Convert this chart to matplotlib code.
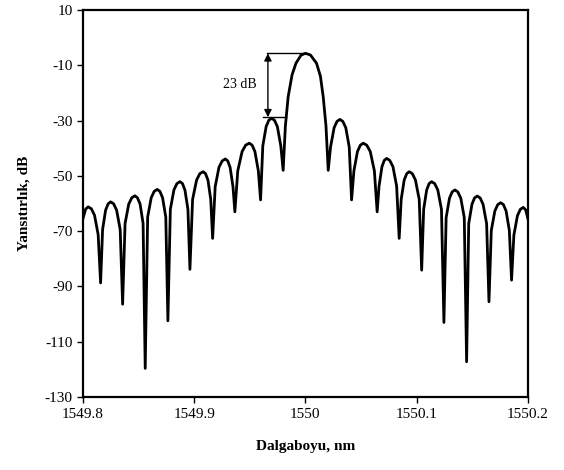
import matplotlib.pyplot as plt

#%% Donnees (spectre de reflexion)

wl_nm = [1549.8000, 1549.8025, 1549.8048, 1549.8076, 1549.8104, 1549.8137, 1549.8159,
         1549.8177, 1549.8204, 1549.8227, 1549.8249, 1549.8276, 1549.8303, 1549.8335, 1549.8357,
         1549.8379, 1549.8412, 1549.8440, 1549.8467, 1549.8490, 1549.8514, 1549.8541, 1549.8560,
         1549.8582, 1549.8614, 1549.8641, 1549.8668, 1549.8692, 1549.8716, 1549.8745, 1549.8764,
         1549.8786, 1549.8818, 1549.8845, 1549.8872, 1549.8895, 1549.8917, 1549.8944, 1549.8962,
         1549.8986, 1549.9022, 1549.9051, 1549.9081, 1549.9102, 1549.9124, 1549.9149, 1549.9166,
         1549.9189, 1549.9223, 1549.9252, 1549.9280, 1549.9302, 1549.9323, 1549.9349, 1549.9366,
         1549.9392, 1549.9431, 1549.9463, 1549.9495, 1549.9521, 1549.9546, 1549.9577, 1549.9597,
         1549.9617, 1549.9647, 1549.9671, 1549.9696, 1549.9722, 1549.9748, 1549.9779, 1549.9800,
         1549.9820, 1549.9845, 1549.9880, 1549.9915, 1549.9960, 1550.0000, 1550.0045, 1550.0100,
         1550.0135, 1550.0160, 1550.0185, 1550.0205,
         1550.0226, 1550.0258, 1550.0284, 1550.0310, 1550.0336, 1550.0363, 1550.0394, 1550.0415,
         1550.0436, 1550.0468, 1550.0494, 1550.0520, 1550.0551, 1550.0583, 1550.0620, 1550.0645,
         1550.0662, 1550.0688, 1550.0709, 1550.0730, 1550.0758, 1550.0787, 1550.0820, 1550.0843,
         1550.0861, 1550.0888, 1550.0911, 1550.0933, 1550.0961, 1550.0989, 1550.1023, 1550.1045,
         1550.1063, 1550.1090, 1550.1112, 1550.1134, 1550.1162, 1550.1190, 1550.1223, 1550.1245,
         1550.1265, 1550.1295, 1550.1319, 1550.1344, 1550.1370, 1550.1397, 1550.1428, 1550.1449,
         1550.1468, 1550.1497, 1550.1520, 1550.1544, 1550.1571, 1550.1597, 1550.1629, 1550.1650,
         1550.1671, 1550.1703, 1550.1729, 1550.1755, 1550.1780, 1550.1804, 1550.1833, 1550.1853,
         1550.1874, 1550.1906, 1550.1932, 1550.1958, 1550.1980, 1550.2000]

refl_db = [-65.5, -62.0, -61.2, -61.9, -64.2, -71.2, -88.7,
           -69.4, -62.4, -60.1, -59.4, -60.1, -62.4, -69.4, -96.4,
           -67.2, -60.2, -57.9, -57.2, -57.9, -60.2, -67.2, -119.6,
           -64.9, -57.9, -55.6, -54.9, -55.6, -57.9, -64.9, -102.4,
           -62.1, -55.1, -52.8, -52.1, -52.8, -55.1, -62.1, -83.8,
           -58.5, -51.5, -49.2, -48.5, -49.2, -51.5, -58.5, -72.6,
           -53.9, -46.9, -44.6, -43.9, -44.6, -46.9, -53.9, -63.0,
           -48.2, -41.2, -38.9, -38.2, -38.9, -41.2, -48.2, -58.7,
           -39.2, -32.2, -29.9, -29.2, -29.9, -32.2, -39.2, -48.0,
           -32.0, -21.4, -13.5, -9.3, -6.4, -5.7, -6.3, -9.3,
           -14.0, -21.4, -32.0, -48.0,
           -39.6, -32.6, -30.3, -29.6, -30.3, -32.6, -39.6, -58.7,
           -48.2, -41.2, -38.9, -38.2, -38.9, -41.2, -48.2, -63.0,
           -53.7, -46.7, -44.4, -43.7, -44.4, -46.7, -53.7, -72.6,
           -58.5, -51.5, -49.2, -48.5, -49.2, -51.5, -58.5, -84.1,
           -62.1, -55.1, -52.8, -52.1, -52.8, -55.1, -62.1, -103.0,
           -65.1, -58.1, -55.8, -55.1, -55.8, -58.1, -65.1, -117.2,
           -67.3, -60.3, -58.0, -57.3, -58.0, -60.3, -67.3, -95.5,
           -69.7, -62.7, -60.4, -59.7, -60.4, -62.7, -69.7, -87.7,
           -71.4, -64.4, -62.1, -61.4, -62.3, -65.5]

x_ticks = [1549.8, 1549.9, 1550.0, 1550.1, 1550.2]
x_labels = ["1549.8", "1549.9", "1550", "1550.1", "1550.2"]
y_ticks = [-130, -110, -90, -70, -50, -30, -10, 10]

# cote "23 dB" : pic principal / premier lobe secondaire
peak_db = -5.7
lobe_db = -28.8
arrow_x = 1549.9663

#%% Figure

plt.rcParams['font.family'] = ['Liberation Serif', 'DejaVu Serif']
plt.rcParams['axes.unicode_minus'] = False   # tirets simples comme l'original

fig = plt.figure(figsize=(5.64, 4.70), dpi=100)
ax = fig.add_axes([0.147, 0.155, 0.789, 0.824])

ax.plot(wl_nm, refl_db, color='k', lw=2.0, solid_joinstyle='round')

# lignes de repere + double fleche
ax.plot([1549.9653, 1550.0], [peak_db, peak_db], color='k', lw=1.0)
ax.plot([1549.9620, 1549.9825], [lobe_db, lobe_db], color='k', lw=1.0)
ax.annotate('', xy=(arrow_x, peak_db), xytext=(arrow_x, lobe_db),
            arrowprops=dict(arrowstyle='<|-|>', color='k', lw=1.0,
                            mutation_scale=11, shrinkA=0, shrinkB=0))
ax.text(1549.9411, -17.1, "23 dB", ha='center', va='center', fontsize=10)

ax.set_xlim(1549.8, 1550.2)
ax.set_ylim(-130, 10)
ax.set_xticks(x_ticks)
ax.set_xticklabels(x_labels)
ax.set_yticks(y_ticks)
ax.tick_params(direction='out', length=4, width=1, labelsize=11)
for sp in ax.spines.values():
    sp.set_linewidth(1.6)

ax.set_xlabel("Dalgaboyu, nm", fontsize=11, fontweight='bold', labelpad=14)
ax.set_ylabel("Yansıtırlık, dB", fontsize=11, fontweight='bold', labelpad=10)

fig.savefig("out.png", dpi=100)
plt.close(fig)
